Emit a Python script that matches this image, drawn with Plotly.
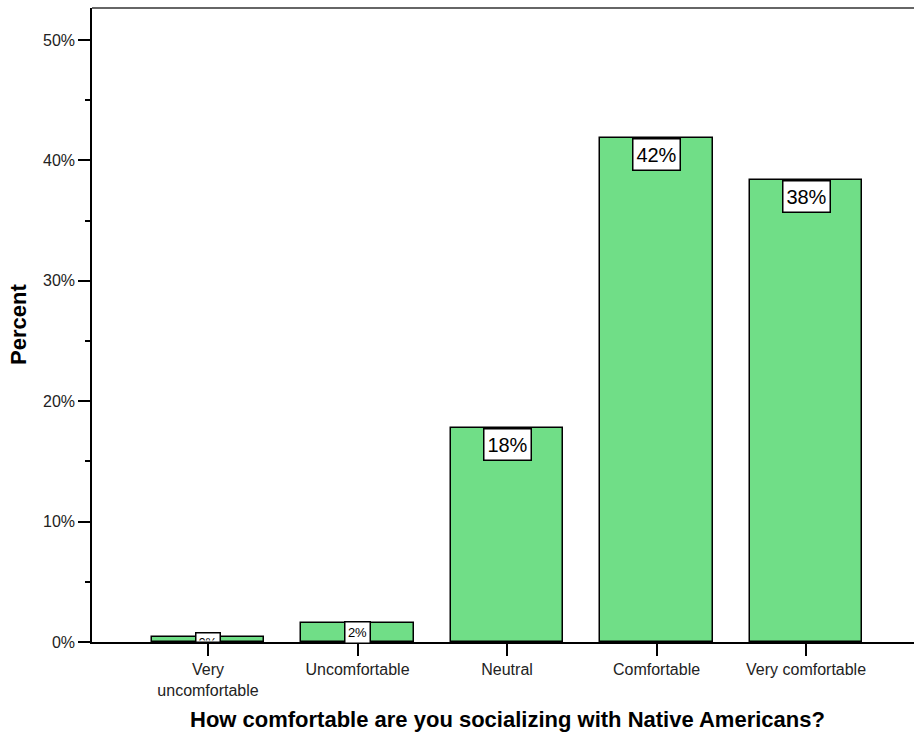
import plotly.graph_objects as go

# Survey responses: share of respondents per comfort level
categories = ["Very<br>uncomfortable", "Uncomfortable", "Neutral", "Comfortable", "Very comfortable"]
percents = [0.4, 1.6, 17.8, 41.9, 38.4]
value_labels = ["0%", "2%", "18%", "42%", "38%"]

y_ticks = [0, 10, 20, 30, 40, 50]
y_tick_text = ["0%", "10%", "20%", "30%", "40%", "50%"]

FONT = "Arial, Liberation Sans, Helvetica, sans-serif"
BAR_COLOR = "#70DE87"

fig = go.Figure()
fig.add_trace(go.Bar(
    x=list(range(len(categories))),
    y=percents,
    width=0.75,
    marker=dict(color=BAR_COLOR, line=dict(color="black", width=1.5)),
    hoverinfo="skip",
))

# Value boxes at the top of each bar; short bars get small centred boxes
annotations = []
for i, (v, lab) in enumerate(zip(percents, value_labels)):
    if v >= 10:
        annotations.append(dict(
            x=i, y=v, xref="x", yref="y", text=lab, showarrow=False,
            xanchor="center", yanchor="top",
            font=dict(family=FONT, size=20, color="black"),
            bgcolor="white", bordercolor="black", borderwidth=1.5, borderpad=1,
            width=44, height=28,
        ))
    elif v >= 1:
        annotations.append(dict(
            x=i, y=v / 2, xref="x", yref="y", text=lab, showarrow=False,
            xanchor="center", yanchor="middle",
            font=dict(family=FONT, size=13, color="black"),
            bgcolor="white", bordercolor="black", borderwidth=1.5, borderpad=1,
            width=22, height=18,
        ))
    else:
        # box runs into the axis line, so only its upper part shows
        annotations.append(dict(
            x=i, y=0, xref="x", yref="y", text=lab, showarrow=False,
            xanchor="center", yanchor="bottom", valign="top",
            font=dict(family=FONT, size=13, color="black"),
            bgcolor="white", bordercolor="black", borderwidth=1.5, borderpad=1,
            width=21, height=6, yshift=-1,
        ))

annotations.append(dict(
    x=(507 - 92) / 822, y=(642 - 719) / 634, xref="paper", yref="paper",
    text="<b>How comfortable are you socializing with Native Americans?</b>",
    showarrow=False, xanchor="center", yanchor="middle",
    font=dict(family=FONT, size=22, color="black"),
))
annotations.append(dict(
    x=(18 - 92) / 822, y=0.5, xref="paper", yref="paper",
    text="<b>Percent</b>", textangle=-90,
    showarrow=False, xanchor="center", yanchor="middle",
    font=dict(family=FONT, size=22, color="black"),
))

fig.update_layout(
    width=914, height=737,
    margin=dict(l=92, r=0, t=8, b=95),
    paper_bgcolor="white", plot_bgcolor="white",
    showlegend=False,
    bargap=0,
    font=dict(family=FONT, size=16, color="#222"),
    annotations=annotations,
    shapes=[dict(type="line", xref="paper", yref="paper", x0=0, x1=1, y0=1, y1=1,
                 line=dict(color="#333", width=1.5))],
)

fig.update_xaxes(
    range=[-0.776, 4.722],
    tickmode="array",
    tickvals=list(range(len(categories))),
    ticktext=categories,
    ticks="outside", ticklen=12, tickwidth=1.5, tickcolor="black",
    showline=True, linecolor="black", linewidth=1.5,
    showgrid=False, zeroline=False,
    tickfont=dict(family=FONT, size=16, color="#222"),
)
fig.update_yaxes(
    range=[0, 52.66],
    tickmode="array",
    tickvals=y_ticks,
    ticktext=y_tick_text,
    ticks="outside", ticklen=12, tickwidth=1.5, tickcolor="black",
    minor=dict(dtick=5, tick0=0, ticks="outside", ticklen=5, tickwidth=1.5,
               tickcolor="black", showgrid=False),
    showline=True, linecolor="black", linewidth=1.5,
    showgrid=False, zeroline=False,
    tickfont=dict(family=FONT, size=16, color="#222"),
)

fig.write_html("out.html")
